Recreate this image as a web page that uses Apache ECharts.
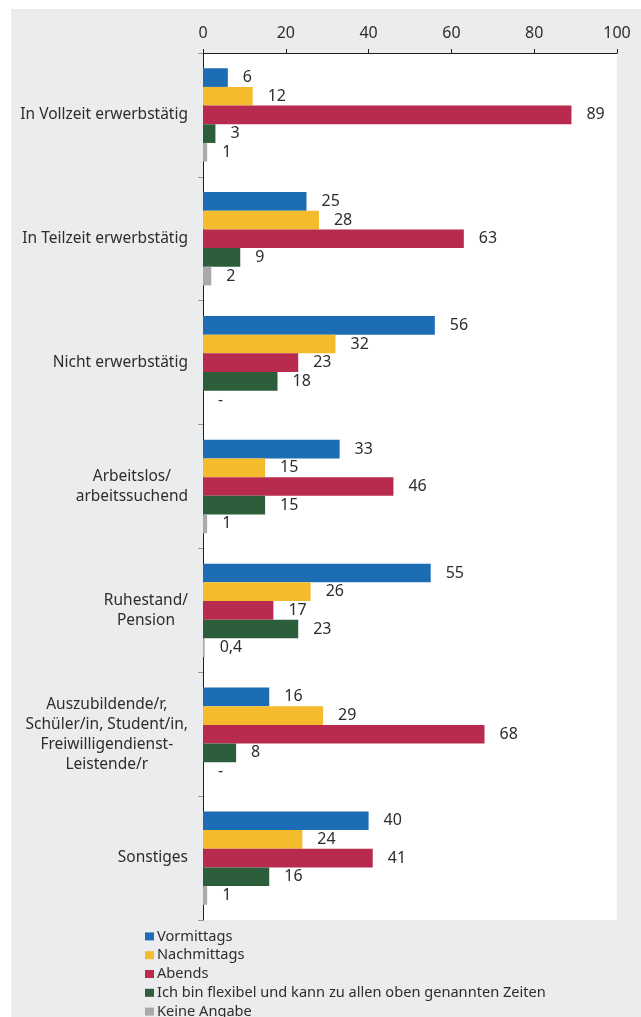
<!DOCTYPE html>
<html>
<head>
<meta charset="utf-8">
<script src="https://cdn.jsdelivr.net/npm/echarts@6/dist/echarts.min.js"></script>
<style>
  html, body { margin: 0; padding: 0; background: #ffffff; }
  #chart { position: absolute; left: 11px; top: 9px; width: 630px; height: 1008px; }
</style>
</head>
<body>
<div id="chart"></div>
<script>
// Categories (top to bottom) and the share per time of day, in percent
const categories = [
  'In Vollzeit erwerbstätig',
  'In Teilzeit erwerbstätig',
  'Nicht erwerbstätig',
  'Arbeitslos/\narbeitssuchend',
  'Ruhestand/\nPension',
  'Auszubildende/r,\nSchüler/in, Student/in,\nFreiwilligendienst-\nLeistende/r',
  'Sonstiges'
];
const seriesNames = [
  'Vormittags',
  'Nachmittags',
  'Abends',
  'Ich bin flexibel und kann zu allen oben genannten Zeiten',
  'Keine Angabe'
];
const vormittags  = [6, 25, 56, 33, 55, 16, 40];
const nachmittags = [12, 28, 32, 15, 26, 29, 24];
const abends      = [89, 63, 23, 46, 17, 68, 41];
const flexibel    = [3, 9, 18, 15, 23, 8, 16];
const keineAngabe = [1, 2, null, 1, 0.4, null, 1]; // null = no value reported ("-")
const axisMin = 0;
const axisMax = 100;
const axisStep = 20;

const colors = ['#1d6db5', '#f4bc2c', '#b82b4f', '#2d5e3b', '#a9a9ab'];
const FONT = 'Noto Sans';
const TEXT = '#2d2d2d';

const chart = echarts.init(document.getElementById('chart'), null, { renderer: 'canvas' });

function toData(arr) {
  return arr.map(v => v === null ? { value: 0, missing: true } : { value: v });
}

const allValues = [vormittags, nachmittags, abends, flexibel, keineAngabe];

const series = allValues.map((arr, i) => ({
  name: seriesNames[i],
  type: 'bar',
  data: toData(arr),
  barGap: '0%',
  barCategoryGap: '24.6%',
  itemStyle: { color: colors[i] },
  label: {
    show: true,
    position: 'right',
    distance: 15,
    color: TEXT,
    fontFamily: FONT,
    fontSize: 16,
    formatter: p => p.data.missing ? '-' : String(p.value).replace('.', ',')
  },
  emphasis: { disabled: true },
  animation: false
}));

chart.setOption({
  backgroundColor: '#ebecee',
  animation: false,
  textStyle: { fontFamily: FONT },
  grid: {
    left: 192,
    right: 24,
    top: 44,
    bottom: 97,
    show: true,
    backgroundColor: '#ffffff',
    borderWidth: 0
  },
  legend: {
    orient: 'vertical',
    left: 134,
    top: 918,
    height: 120,
    padding: 0,
    itemGap: 0,
    itemWidth: 9,
    itemHeight: 8,
    icon: 'rect',
    selectedMode: false,
    data: seriesNames,
    textStyle: {
      color: TEXT,
      fontFamily: FONT,
      fontSize: 14.6,
      lineHeight: 18.8,
      padding: [0, 0, 0, -2]
    }
  },
  xAxis: {
    type: 'value',
    position: 'top',
    min: axisMin,
    max: axisMax,
    interval: axisStep,
    splitLine: { show: false },
    axisLine: { show: true, lineStyle: { color: '#1e1e1e', width: 1 } },
    axisTick: { show: true, length: 4, lineStyle: { color: '#1e1e1e' } },
    axisLabel: {
      color: TEXT,
      fontFamily: FONT,
      fontSize: 16,
      margin: 12
    }
  },
  yAxis: {
    type: 'category',
    inverse: true,
    data: categories,
    axisLine: { show: true, lineStyle: { color: '#1e1e1e', width: 1 } },
    axisTick: { show: true, length: 5, interval: 0, lineStyle: { color: '#9a9a9a' } },
    axisLabel: {
      interval: 0,
      margin: 15,
      color: TEXT,
      fontFamily: FONT,
      fontSize: 15.5,
      lineHeight: 20,
      align: 'right',
      formatter: v => v.split('\n').map(l => '{c|' + l + '}').join('\n'),
      rich: {
        c: { align: 'center', fontFamily: FONT, fontSize: 15.5, lineHeight: 20, color: TEXT }
      }
    }
  },
  series: series
});
</script>
</body>
</html>
